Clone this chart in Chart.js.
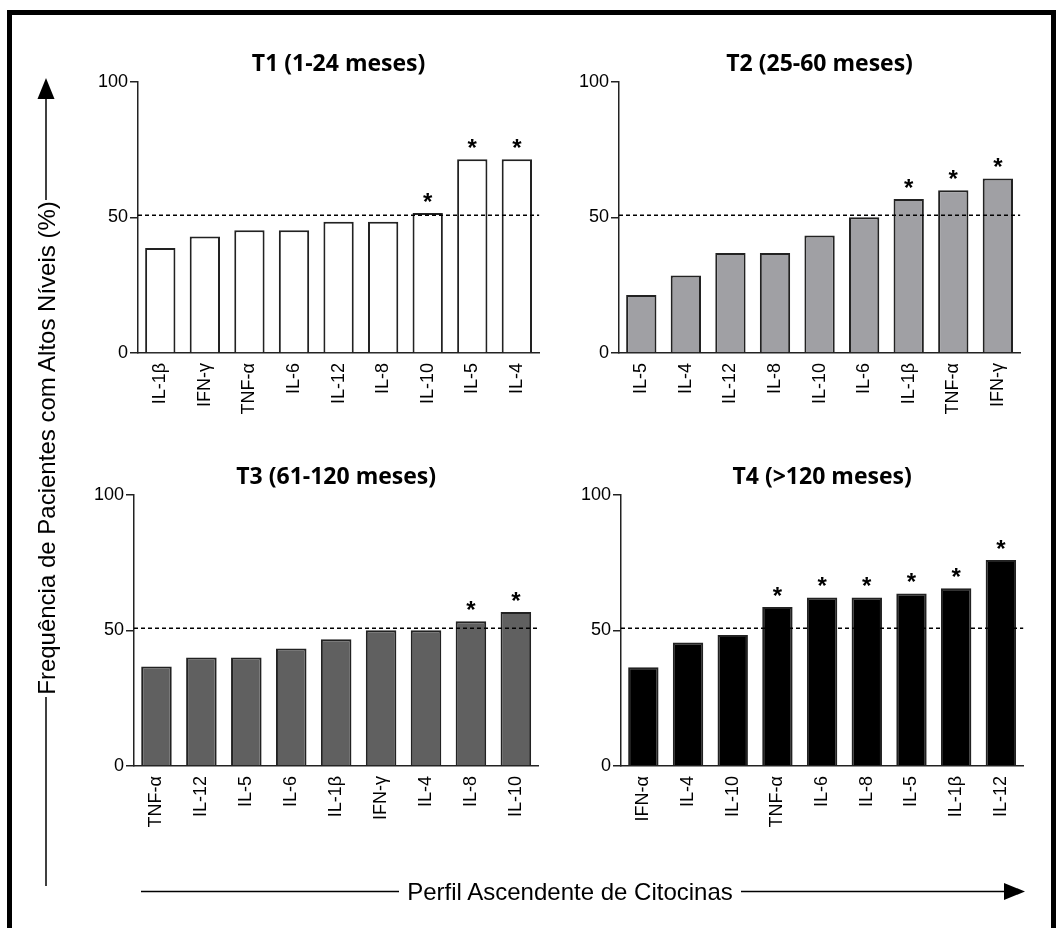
<!DOCTYPE html>
<html lang="pt">
<head>
<meta charset="UTF-8">
<title>Perfil ascendente de citocinas</title>
<script src="https://cdn.jsdelivr.net/npm/chart.js"></script>
<style>
  body { margin: 0; background: #fff; }
  #page { position: relative; width: 1063px; height: 928px; overflow: hidden; font-family: "Liberation Sans", Arial, sans-serif; }
  .frame { position: absolute; left: 7px; top: 10px; width: 1049px; height: 940px; box-sizing: border-box; border: 5px solid #000; }
  .panel { position: absolute; }
  #axes { position: absolute; left: 0; top: 0; }
</style>
</head>
<body>
<div id="page">
  <div class="frame"></div>
  <canvas id="t1" class="panel" width="471" height="423" style="left:78px; top:30px"></canvas>
  <canvas id="t2" class="panel" width="471" height="423" style="left:559px; top:30px"></canvas>
  <canvas id="t3" class="panel" width="474" height="423" style="left:74px; top:443px"></canvas>
  <canvas id="t4" class="panel" width="472" height="423" style="left:561px; top:443px"></canvas>

  <svg id="axes" width="1063" height="928" font-family="Liberation Sans, Arial, sans-serif" font-size="24">
    <!-- vertical arrow + label -->
    <polygon points="46,78 37.5,99 54.5,99" fill="#000"/>
    <line x1="46" y1="99" x2="46" y2="200" stroke="#000" stroke-width="1.5"/>
    <text x="46" y="448" transform="rotate(-90 46 448)" text-anchor="middle" dominant-baseline="central">Frequência de Pacientes com Altos Níveis (%)</text>
    <line x1="46" y1="697" x2="46" y2="886" stroke="#000" stroke-width="1.5"/>
    <!-- horizontal arrow + label -->
    <line x1="141" y1="891.5" x2="399" y2="891.5" stroke="#000" stroke-width="1.5"/>
    <text x="570" y="891.5" text-anchor="middle" dominant-baseline="central">Perfil Ascendente de Citocinas</text>
    <line x1="741" y1="891.5" x2="1005" y2="891.5" stroke="#000" stroke-width="1.5"/>
    <polygon points="1004,883 1025,891.5 1004,900" fill="#000"/>
  </svg>
</div>

<script>
// % of patients with high levels, cytokines sorted ascending per age group
const t1Labels = ['IL-1β', 'IFN-γ', 'TNF-α', 'IL-6', 'IL-12', 'IL-8', 'IL-10', 'IL-5', 'IL-4'];
const t1Values = [38.7, 42.9, 45.2, 45.2, 48.4, 48.4, 51.6, 71.4, 71.4];
const t1Stars  = [0, 0, 0, 0, 0, 0, 1, 1, 1];

const t2Labels = ['IL-5', 'IL-4', 'IL-12', 'IL-8', 'IL-10', 'IL-6', 'IL-1β', 'TNF-α', 'IFN-γ'];
const t2Values = [21.4, 28.6, 36.8, 36.8, 43.3, 50.0, 56.7, 60.0, 64.3];
const t2Stars  = [0, 0, 0, 0, 0, 0, 1, 1, 1];

const t3Labels = ['TNF-α', 'IL-12', 'IL-5', 'IL-6', 'IL-1β', 'IFN-γ', 'IL-4', 'IL-8', 'IL-10'];
const t3Values = [36.7, 40.0, 40.0, 43.3, 46.7, 50.0, 50.0, 53.3, 56.7];
const t3Stars  = [0, 0, 0, 0, 0, 0, 0, 1, 1];

const t4Labels = ['IFN-α', 'IL-4', 'IL-10', 'TNF-α', 'IL-6', 'IL-8', 'IL-5', 'IL-1β', 'IL-12'];
const t4Values = [36.4, 45.5, 48.3, 58.6, 62.1, 62.1, 63.6, 65.5, 75.9];
const t4Stars  = [0, 0, 0, 1, 1, 1, 1, 1, 1];

const cutoff = 50.8;   // dashed reference line
const yTicks = [0, 50, 100];

Chart.defaults.font.family = '"Liberation Sans", Arial, sans-serif';
Chart.defaults.color = '#000';

// dashed cutoff line + significance asterisks
const marks = {
  id: 'marks',
  afterDatasetsDraw(chart, args, opts) {
    const { ctx, chartArea } = chart;
    const y = chart.scales.y.getPixelForValue(opts.cutoff);
    ctx.save();
    ctx.strokeStyle = '#000';
    ctx.lineWidth = 1.5;
    ctx.setLineDash([4, 3]);
    ctx.beginPath();
    ctx.moveTo(chartArea.left, y);
    ctx.lineTo(chartArea.right, y);
    ctx.stroke();
    ctx.setLineDash([]);
    ctx.fillStyle = '#000';
    ctx.font = 'bold 24px "Liberation Sans", Arial, sans-serif';
    ctx.textAlign = 'center';
    ctx.textBaseline = 'alphabetic';
    chart.getDatasetMeta(0).data.forEach((bar, i) => {
      if (opts.stars[i]) ctx.fillText('*', bar.x, bar.y - 3);
    });
    ctx.restore();
  }
};

function panel(id, title, labels, values, stars, fill) {
  return new Chart(document.getElementById(id), {
    type: 'bar',
    data: {
      labels: labels,
      datasets: [{
        data: values,
        backgroundColor: fill,
        borderColor: '#222',
        borderWidth: 2,
        barPercentage: 0.68,
        categoryPercentage: 1
      }]
    },
    options: {
      responsive: false,
      animation: false,
      layout: { padding: { right: 4 } },
      plugins: {
        legend: { display: false },
        tooltip: { enabled: false },
        title: {
          display: true,
          text: title,
          fullSize: false,
          color: '#000',
          font: { family: '"Open Sans", sans-serif', size: 23, weight: 'bold', lineHeight: 1.2 },
          padding: { top: 21, bottom: 3 }
        },
        marks: { cutoff: cutoff, stars: stars }
      },
      scales: {
        x: {
          grid: { display: false, drawTicks: false },
          border: { display: true, color: '#222', width: 1.5 },
          ticks: { font: { size: 18 }, minRotation: 90, maxRotation: 90, padding: 10, autoSkip: false },
          afterFit: s => { s.height = 100; }
        },
        y: {
          min: 0,
          max: 100,
          afterBuildTicks: s => { s.ticks = yTicks.map(v => ({ value: v })); },
          ticks: { font: { size: 18 }, padding: 2 },
          grid: { drawOnChartArea: false, tickLength: 8, tickColor: '#222', lineWidth: 1.5 },
          border: { color: '#222', width: 1.5 },
          afterFit: s => { s.width = 60; }
        }
      }
    },
    plugins: [marks]
  });
}

panel('t1', 'T1 (1-24 meses)', t1Labels, t1Values, t1Stars, '#ffffff');
panel('t2', 'T2 (25-60 meses)', t2Labels, t2Values, t2Stars, '#a0a0a4');
panel('t3', 'T3 (61-120 meses)', t3Labels, t3Values, t3Stars, '#606060');
panel('t4', 'T4 (>120 meses)', t4Labels, t4Values, t4Stars, '#000000');
</script>
</body>
</html>
